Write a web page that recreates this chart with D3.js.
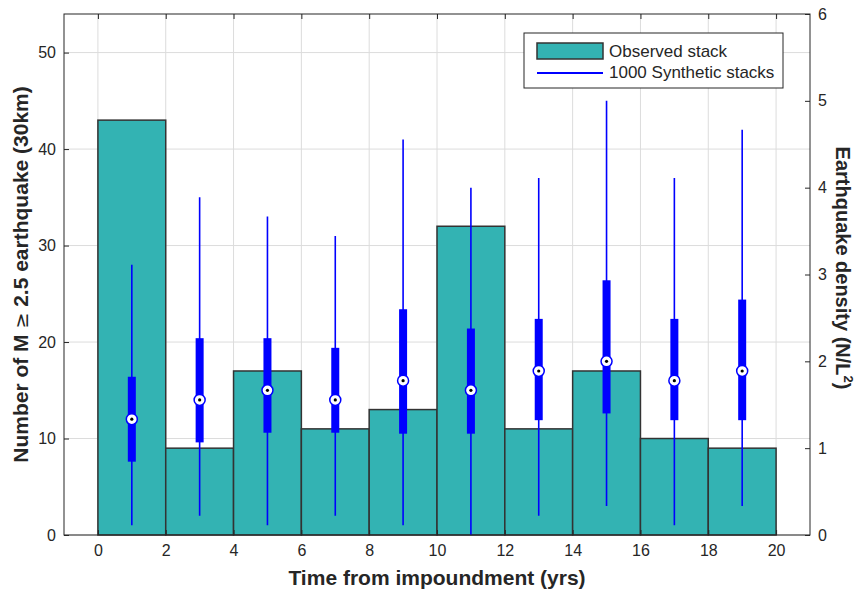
<!DOCTYPE html>
<html>
<head>
<meta charset="utf-8">
<script src="https://cdn.jsdelivr.net/npm/d3@7"></script>
<style>
  html, body { margin: 0; padding: 0; background: #fff; }
  svg { display: block; font-family: "Liberation Sans", Arial, sans-serif; }
</style>
</head>
<body>
<svg id="chart" width="860" height="596"></svg>
<script>
// ---- data ----
const binStarts = [0, 2, 4, 6, 8, 10, 12, 14, 16, 18];
const binWidth = 2;
const observed = [43, 9, 17, 11, 13, 32, 11, 17, 10, 9];
const synthCenters = [1, 3, 5, 7, 9, 11, 13, 15, 17, 19];
const synthMedian = [12, 14, 15, 14, 16, 15, 17, 18, 16, 17];
const synthQ1 = [7.6, 9.6, 10.6, 10.6, 10.5, 10.5, 11.9, 12.6, 11.9, 11.9];
const synthQ3 = [16.4, 20.4, 20.4, 19.4, 23.4, 21.4, 22.4, 26.4, 22.4, 24.4];
const synthMin = [1, 2, 1, 2, 1, 0, 2, 3, 1, 3];
const synthMax = [28, 35, 33, 31, 41, 36, 37, 45, 37, 42];
const xTicks = [0, 2, 4, 6, 8, 10, 12, 14, 16, 18, 20];
const yTicksLeft = [0, 10, 20, 30, 40, 50];
const yTicksRight = [0, 1, 2, 3, 4, 5, 6];
const legendLabels = ["Observed stack", "1000 Synthetic stacks"];

// ---- layout ----
const svg = d3.select("#chart");
const L = 64, R = 810, T = 14, B = 535;
const x = d3.scaleLinear().domain([-1, 21]).range([L, R]);
const y = d3.scaleLinear().domain([0, 54]).range([B, T]);
const y2 = d3.scaleLinear().domain([0, 6]).range([B, T]);

const axisColor = "#262626";
const tickFont = 16;

// grid
const grid = svg.append("g");
grid.selectAll(".gx").data(xTicks).join("line")
  .attr("x1", d => x(d)).attr("x2", d => x(d)).attr("y1", T).attr("y2", B)
  .attr("stroke", "#dcdcdc").attr("stroke-width", 1);
grid.selectAll(".gy").data(yTicksLeft).join("line")
  .attr("x1", L).attr("x2", R).attr("y1", d => y(d)).attr("y2", d => y(d))
  .attr("stroke", "#dcdcdc").attr("stroke-width", 1);

// bars
svg.append("g").selectAll("rect").data(observed).join("rect")
  .attr("x", (d, i) => x(binStarts[i]))
  .attr("width", (d, i) => x(binStarts[i] + binWidth) - x(binStarts[i]))
  .attr("y", d => y(d))
  .attr("height", d => y(0) - y(d))
  .attr("fill", "#33b3b3")
  .attr("stroke", "#333333")
  .attr("stroke-width", 1.5);

// synthetic box plots
const bx = svg.append("g");
synthCenters.forEach((c, i) => {
  bx.append("line")
    .attr("x1", x(c)).attr("x2", x(c))
    .attr("y1", y(synthMin[i])).attr("y2", y(synthMax[i]))
    .attr("stroke", "#0000ff").attr("stroke-width", 1.6);
  bx.append("rect")
    .attr("x", x(c) - 4).attr("width", 8)
    .attr("y", y(synthQ3[i])).attr("height", y(synthQ1[i]) - y(synthQ3[i]))
    .attr("fill", "#0000ff");
  bx.append("circle")
    .attr("cx", x(c)).attr("cy", y(synthMedian[i])).attr("r", 5.5)
    .attr("fill", "#fff").attr("stroke", "#0000ff").attr("stroke-width", 1.5);
  bx.append("circle")
    .attr("cx", x(c)).attr("cy", y(synthMedian[i])).attr("r", 1.6)
    .attr("fill", "#000");
});

// frame
svg.append("rect").attr("x", L).attr("y", T).attr("width", R - L).attr("height", B - T)
  .attr("fill", "none").attr("stroke", axisColor).attr("stroke-width", 1);

// axes (ticks inward)
const tk = 5;
const axB = svg.append("g").attr("transform", `translate(0,${B})`)
  .call(d3.axisBottom(x).tickValues(xTicks).tickSizeInner(-tk).tickSizeOuter(0).tickPadding(10).tickFormat(d3.format("d")));
const axT = svg.append("g").attr("transform", `translate(0,${T})`)
  .call(d3.axisTop(x).tickValues(xTicks).tickSizeInner(-tk).tickSizeOuter(0).tickFormat(""));
const axL = svg.append("g").attr("transform", `translate(${L},0)`)
  .call(d3.axisLeft(y).tickValues(yTicksLeft).tickSizeInner(-tk).tickSizeOuter(0).tickPadding(8).tickFormat(d3.format("d")));
const axR = svg.append("g").attr("transform", `translate(${R},0)`)
  .call(d3.axisRight(y2).tickValues(yTicksRight).tickSizeInner(-tk).tickSizeOuter(0).tickPadding(8).tickFormat(d3.format("d")));
[axB, axT, axL, axR].forEach(a => {
  a.select(".domain").remove();
  a.selectAll("line").attr("stroke", axisColor);
  a.selectAll("text").attr("fill", axisColor).attr("font-size", tickFont)
    .attr("font-family", '"Liberation Sans", Arial, sans-serif');
});

// axis labels
svg.append("text")
  .attr("x", (L + R) / 2).attr("y", 585)
  .attr("text-anchor", "middle").attr("font-size", 21).attr("font-weight", "bold")
  .attr("fill", axisColor)
  .text("Time from impoundment (yrs)");

const yl = svg.append("text")
  .attr("transform", `translate(28,${(T + B) / 2}) rotate(-90)`)
  .attr("text-anchor", "middle").attr("font-size", 21).attr("font-weight", "bold")
  .attr("fill", axisColor);
yl.append("tspan").text("Number of M ");
yl.append("tspan").attr("font-weight", "normal").attr("font-family", "DejaVu Sans").attr("font-size", 19).text("≥");
yl.append("tspan").text(" 2.5 earthquake (30km)");

const yr = svg.append("text")
  .attr("transform", `translate(836,268) rotate(90)`)
  .attr("text-anchor", "middle").attr("font-size", 20).attr("font-weight", "bold")
  .attr("fill", axisColor);
yr.append("tspan").text("Earthquake density (N/L");
yr.append("tspan").attr("font-size", 13).attr("dy", -8).text("2");
yr.append("tspan").attr("dy", 8).text(")");

// legend
const lg = svg.append("g");
lg.append("rect").attr("x", 524).attr("y", 33).attr("width", 259).attr("height", 55)
  .attr("fill", "#fff").attr("stroke", axisColor).attr("stroke-width", 1);
lg.append("rect").attr("x", 537).attr("y", 43).attr("width", 66).attr("height", 16)
  .attr("fill", "#33b3b3").attr("stroke", "#333333").attr("stroke-width", 1.5);
lg.append("line").attr("x1", 537).attr("x2", 603).attr("y1", 73).attr("y2", 73)
  .attr("stroke", "#0000ff").attr("stroke-width", 2);
lg.selectAll("text").data(legendLabels).join("text")
  .attr("x", 609).attr("y", (d, i) => 57 + i * 21)
  .attr("font-size", 17).attr("fill", axisColor)
  .text(d => d);
</script>
</body>
</html>
